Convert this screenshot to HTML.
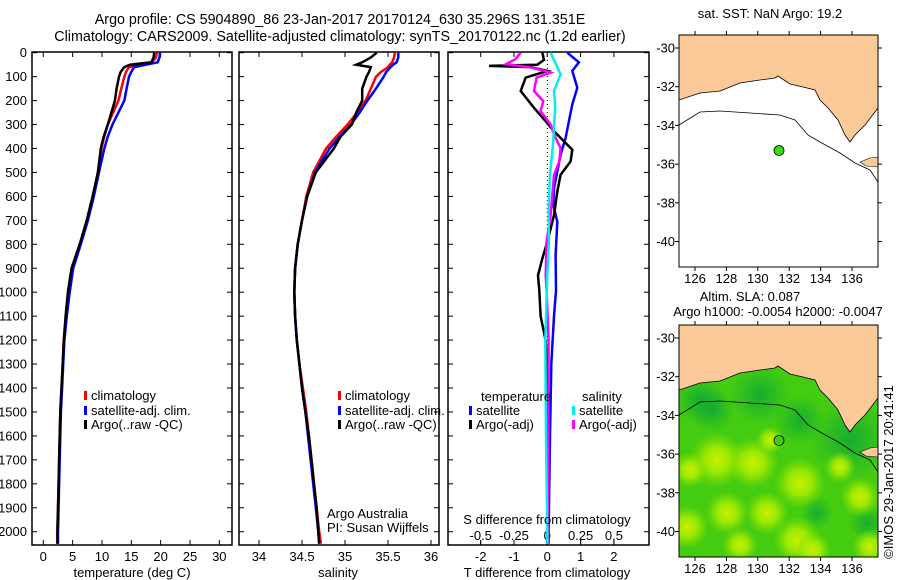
<!DOCTYPE html>
<html><head><meta charset="utf-8"><style>
body{margin:0;background:#fff;}
svg{display:block;font-family:"Liberation Sans",sans-serif;font-size:13px;}
</style></head><body>
<svg id="s" width="900" height="580" viewBox="0 0 900 580">
<text x="340" y="24" text-anchor="middle" style="font-size:14.3px">Argo profile: CS 5904890_86 23-Jan-2017 20170124_630 35.296S 131.351E</text>
<text x="340" y="41" text-anchor="middle" style="font-size:14.3px">Climatology: CARS2009. Satellite-adjusted climatology: synTS_20170122.nc (1.2d earlier)</text>
<g id="g"></g>
</svg>
<script>
// ---- data ----
const depths = [0,20,40,50,60,80,100,150,200,250,300,350,400,500,600,700,800,900,1000,1100,1200,1300,1400,1500,1600,1700,1800,1900,2000,2050];
const tempClim = [19.4,19.2,18.5,16.5,14.6,14.1,13.8,13.3,12.8,11.9,11.0,10.4,9.9,9.3,8.5,7.5,6.3,5.0,4.4,3.9,3.5,3.3,3.1,2.9,2.8,2.7,2.6,2.5,2.4,2.4];
const tempSat = [19.9,19.8,19.5,17.5,15.5,15.0,14.6,14.2,13.8,12.8,11.8,11.0,10.4,9.5,8.6,7.6,6.4,5.1,4.5,4.0,3.6,3.4,3.2,3.0,2.9,2.8,2.7,2.6,2.5,2.5];
const tempArgo = [18.9,18.8,18.4,14.8,13.8,13.2,12.9,12.5,12.2,11.6,11.0,10.3,9.8,9.3,8.4,7.4,6.2,4.8,4.2,3.8,3.5,3.3,3.1,2.9,2.8,2.7,2.6,2.5,2.4,2.4];
const salClim = [35.58,35.57,35.55,35.52,35.5,35.42,35.36,35.3,35.24,35.14,35.03,34.9,34.78,34.63,34.55,34.5,34.45,34.42,34.41,34.42,34.44,34.47,34.51,34.55,34.58,34.61,34.64,34.67,34.7,34.72];
const salSat = [35.62,35.62,35.6,35.56,35.53,35.48,35.45,35.36,35.26,35.17,35.07,34.94,34.82,34.65,34.56,34.5,34.45,34.42,34.41,34.42,34.44,34.47,34.5,34.54,34.57,34.6,34.63,34.66,34.69,34.7];
const salArgo = [35.37,35.3,35.2,35.13,35.3,35.28,35.25,35.2,35.2,35.13,35.08,34.95,34.87,34.66,34.56,34.5,34.45,34.42,34.41,34.42,34.44,34.47,34.5,34.54,34.58,34.61,34.64,34.67,34.69,34.7];
const dTArgoDepth = [0,30,50,55,60,76,104,160,230,286,328,370,405,454,510,580,678,790,860,930,993,1100,1200,1300,2000,2050];
const dTArgo = [-0.15,-0.1,-0.3,-1.75,-0.5,0,-0.65,-0.8,-0.4,-0.05,0.2,0.5,0.75,0.7,0.4,0.3,0.2,0,-0.15,-0.28,-0.24,-0.2,-0.05,0,0,0];
const dTSatDepth = [0,40,76,146,216,286,356,426,496,566,636,706,846,993,1100,1300,1600,2000,2050];
const dTSat = [0.6,0.95,0.75,0.9,0.75,0.65,0.55,0.4,0.3,0.2,0.18,0.3,0.25,0.26,0.2,0.12,0.08,0.04,0.04];
const dSArgoDepth = [0,27,48,62,83,104,160,202,244,300,342,398,454,510,580,678,790,930,993,1200,2000,2050];
const dSArgo = [-0.2,-0.24,-0.31,-0.12,0.025,-0.08,-0.1,-0.03,-0.05,0.025,0.05,0.1,0.09,0.05,0.04,0.025,-0.005,-0.012,-0.005,0.01,0.005,0.005];
const dSSatDepth = [0,90,160,230,300,370,510,650,790,930,1200,1600,2000,2050];
const dSSat = [0.025,0.1,0.05,0.06,0.05,0.045,0.02,0.01,0.012,0,-0.015,-0.01,0,0];
const tTicks=[0,5,10,15,20,25,30], sTicks=[34,34.5,35,35.5,36], dTTicks=[-2,-1,0,1,2], dSTicks=[-0.5,-0.25,0,0.25,0.5], dSTickLabels=["-0.5","-0.25","0","0.25","0.5"];
const depthTicks=[0,100,200,300,400,500,600,700,800,900,1000,1100,1200,1300,1400,1500,1600,1700,1800,1900,2000];
const lonTicks=[126,128,130,132,134,136], latTicks=[-30,-32,-34,-36,-38,-40];
const argoLon=131.351, argoLat=-35.296;

// ---- scales ----
const y = d => 52.7 + d*0.2395;
const xT = v => 43.3 + v*5.867;
const xS = v => 259 + (v-34)*86;
const xDT = v => 547.3 + v*33.3;
const xDS = v => 547.3 + v*133.2;
const NS='http://www.w3.org/2000/svg';
const G=document.getElementById('g');
function el(t,a,p){const e=document.createElementNS(NS,t);for(const k in a)e.setAttribute(k,a[k]);(p||G).appendChild(e);return e;}
function txt(x,yy,s,anchor){const e=el('text',{x:x,y:yy,'text-anchor':anchor||'start'});e.textContent=s;return e;}
function line(xs,ds,fx,col,w,name){
  const p=ds.map((d,i)=>fx(xs[i]).toFixed(1)+','+y(d).toFixed(1)).join(' ');
  const e=el('polyline',{points:p,fill:'none',stroke:col,'stroke-width':w});
  
  
}
const TOP=52,BOT=545;
function frame(x0,x1,name){
  const r=el('rect',{x:x0,y:TOP,width:x1-x0,height:BOT-TOP,fill:'none',stroke:'#000','stroke-width':1.5});
  
  
}
// depth axis
depthTicks.forEach(d=>{
  const t=txt(27,y(d)+4.5,String(d),'end');
  
  
  [[32,37],[227,232],[239,244],[434,439],[448,453],[644,649]].forEach(p=>el('line',{x1:p[0],x2:p[1],y1:y(d),y2:y(d),stroke:'#000'}));
});
function xticks(ticks,labels,fx,ly,name){
  ticks.forEach((v,i)=>{
    const X=fx(v);
    el('line',{x1:X,x2:X,y1:BOT,y2:BOT-5,stroke:'#000'});
    el('line',{x1:X,x2:X,y1:TOP,y2:TOP+5,stroke:'#000'});
    const t=txt(X,ly,labels[i],'middle');
    
    
  });
}
// panel 1
frame(32,232,'temperature-panel');
xticks(tTicks,tTicks.map(String),xT,561,'temperature-tick-label');
line(tempClim,depths,xT,'#f00',2.5,'temp-climatology-line');
line(tempSat,depths,xT,'#00f',2.5,'temp-satellite-line');
line(tempArgo,depths,xT,'#000',2.5,'temp-argo-line');
txt(132,577,'temperature (deg C)','middle');
// panel 2
frame(239,439,'salinity-panel');
xticks(sTicks,sTicks.map(String),xS,561,'salinity-tick-label');
line(salClim,depths,xS,'#f00',2.5,'sal-climatology-line');
line(salSat,depths,xS,'#00f',2.5,'sal-satellite-line');
line(salArgo,depths,xS,'#000',2.5,'sal-argo-line');
txt(338,577,'salinity','middle');
txt(327,518,'Argo Australia');
txt(327,532,'PI: Susan Wijffels');
// panel 3
frame(448,649,'difference-panel');
xticks(dTTicks,dTTicks.map(String),xDT,561,'t-diff-tick-label');
dSTicks.forEach((v,i)=>{const X=xDS(v);el('line',{x1:X,x2:X,y1:BOT,y2:BOT-5,stroke:'#000'});
  const t=txt(X,540,dSTickLabels[i],'middle');});
el('line',{x1:xDT(0),x2:xDT(0),y1:TOP,y2:BOT,stroke:'#000','stroke-dasharray':'1,3'});
line(dTSat,dTSatDepth,xDT,'#00f',2.5,'tdiff-satellite-line');
line(dTArgo,dTArgoDepth,xDT,'#000',2.5,'tdiff-argo-line');
line(dSArgo,dSArgoDepth,xDS,'#f0f',2.5,'sdiff-argo-line');
line(dSSat,dSSatDepth,xDS,'#0ee',2.5,'sdiff-satellite-line');
txt(547,524,'S difference from climatology','middle');
txt(547,577,'T difference from climatology','middle');
// legends
function leg(x,yy,col,s){el('rect',{x:x,y:yy-6,width:3,height:9,fill:col});const t=txt(x+7,yy+3,s);}
leg(84,397,'#f00','climatology');leg(84,412,'#00f','satellite-adj. clim.');leg(84,426,'#000','Argo(..raw -QC)');
leg(338,397,'#f00','climatology');leg(338,412,'#00f','satellite-adj. clim.');leg(338,426,'#000','Argo(..raw -QC)');
txt(481,401,'temperature');txt(582,401,'salinity');
leg(469,412,'#00f','satellite');leg(469,426,'#000','Argo(-adj)');
leg(572,412,'#0ee','satellite');leg(572,426,'#f0f','Argo(-adj)');

// ---- maps ----
const lonX = v => 695 + (v-126)*15.7;
function map(oy,name,green){
  const latY = v => oy+48 + (-30 - v)*19.35;
  const g=el('g',{});
  
  
  const x0=679,x1=878,y0=oy+35,y1=oy+267;
  const defs=el('defs',{},g);
  const cp=el('clipPath',{id:'clip'+oy},defs);
  el('rect',{x:x0,y:y0,width:x1-x0,height:y1-y0},cp);
  const inner=el('g',{'clip-path':'url(#clip'+oy+')'},g);
  el('rect',{x:x0,y:y0,width:x1-x0,height:y1-y0,fill:green?'#44cc11':'#fff'},inner);
  if(green){
    const rg=el('radialGradient',{id:'yb'},defs);
    el('stop',{offset:'0','stop-color':'#ccee00','stop-opacity':'1'},rg);
    el('stop',{offset:'0.45','stop-color':'#aaee00','stop-opacity':'0.85'},rg);
    el('stop',{offset:'1','stop-color':'#88dd00','stop-opacity':'0'},rg);
    const dg=el('radialGradient',{id:'db'},defs);
    el('stop',{offset:'0','stop-color':'#11aa33','stop-opacity':'0.9'},dg);
    el('stop',{offset:'1','stop-color':'#11aa33','stop-opacity':'0'},dg);
    [[713,410,22],[817,513,16],[867,523,18],[800,420,25],[850,440,40],[760,395,30],[700,400,25]].forEach(b=>el('circle',{cx:b[0],cy:b[1]-290+oy,r:b[2],fill:'url(#db)'},inner));
    [[717,460,28],[753,463,26],[800,483,26],[860,497,20],[687,527,22],[727,513,22],[767,513,22],[797,540,24],[813,550,18],[870,547,18],[840,467,16],[690,470,18],[740,545,18],[770,440,14]].forEach(b=>el('circle',{cx:b[0],cy:b[1]-290+oy,r:b[2],fill:'url(#yb)'},inner));
  }
  const land=[[679,100],[700,93],[720,91],[740,83],[760,80],[775,78],[778,76],[790,84],[803,87],[815,90],[820,100],[828,108],[838,120],[845,135],[850,142],[855,135],[865,125],[878,108],[878,35],[679,35]];
  el('polygon',{points:land.map(p=>p[0]+','+(p[1]+oy)).join(' '),fill:'#fcc998',stroke:'#000','stroke-width':0.8},inner);
  el('polygon',{points:[[860,162],[870,158],[878,157],[878,167],[866,166]].map(p=>p[0]+','+(p[1]+oy)).join(' '),fill:'#fcc998',stroke:'#000','stroke-width':0.6},inner);
  const cont=[[679,125],[700,112],[720,111],[750,113],[780,115],[795,120],[808,135],[820,142],[840,153],[855,163],[870,170],[878,182]];
  el('polyline',{points:cont.map(p=>p[0]+','+(p[1]+oy)).join(' '),fill:'none',stroke:'#000','stroke-width':0.8},inner);
  el('rect',{x:x0,y:y0,width:x1-x0,height:y1-y0,fill:'none',stroke:'#000','stroke-width':1},g);
  lonTicks.forEach(v=>{const X=lonX(v);el('line',{x1:X,x2:X,y1:y0,y2:y0-4,stroke:'#000'},g);el('line',{x1:X,x2:X,y1:y1,y2:y1+4,stroke:'#000'},g);
    const t=txt(X,y1+16,String(v),'middle');g.appendChild(t);});
  latTicks.forEach(v=>{const Y=latY(v);el('line',{x1:x0,x2:x0-4,y1:Y,y2:Y,stroke:'#000'},g);el('line',{x1:x1,x2:x1+4,y1:Y,y2:Y,stroke:'#000'},g);
    const t=txt(675,Y+4.5,String(v),'end');g.appendChild(t);});
  const pt=el('circle',{cx:lonX(argoLon),cy:latY(argoLat),r:5,fill:green?'#44cc11':'#33dd11',stroke:'#000','stroke-width':0.8},g);
  
  
}
map(0,'sst-map',false);
map(290,'sla-map',true);
txt(770,18,'sat. SST: NaN Argo: 19.2','middle');
txt(750,301,'Altim. SLA: 0.087','middle');
txt(778,316,'Argo h1000: -0.0054 h2000: -0.0047','middle');
const c=txt(0,0,'©IMOS 29-Jan-2017 20:41:41','middle');
c.setAttribute('transform','translate(893,472) rotate(-90)');


</script>
</body></html>
